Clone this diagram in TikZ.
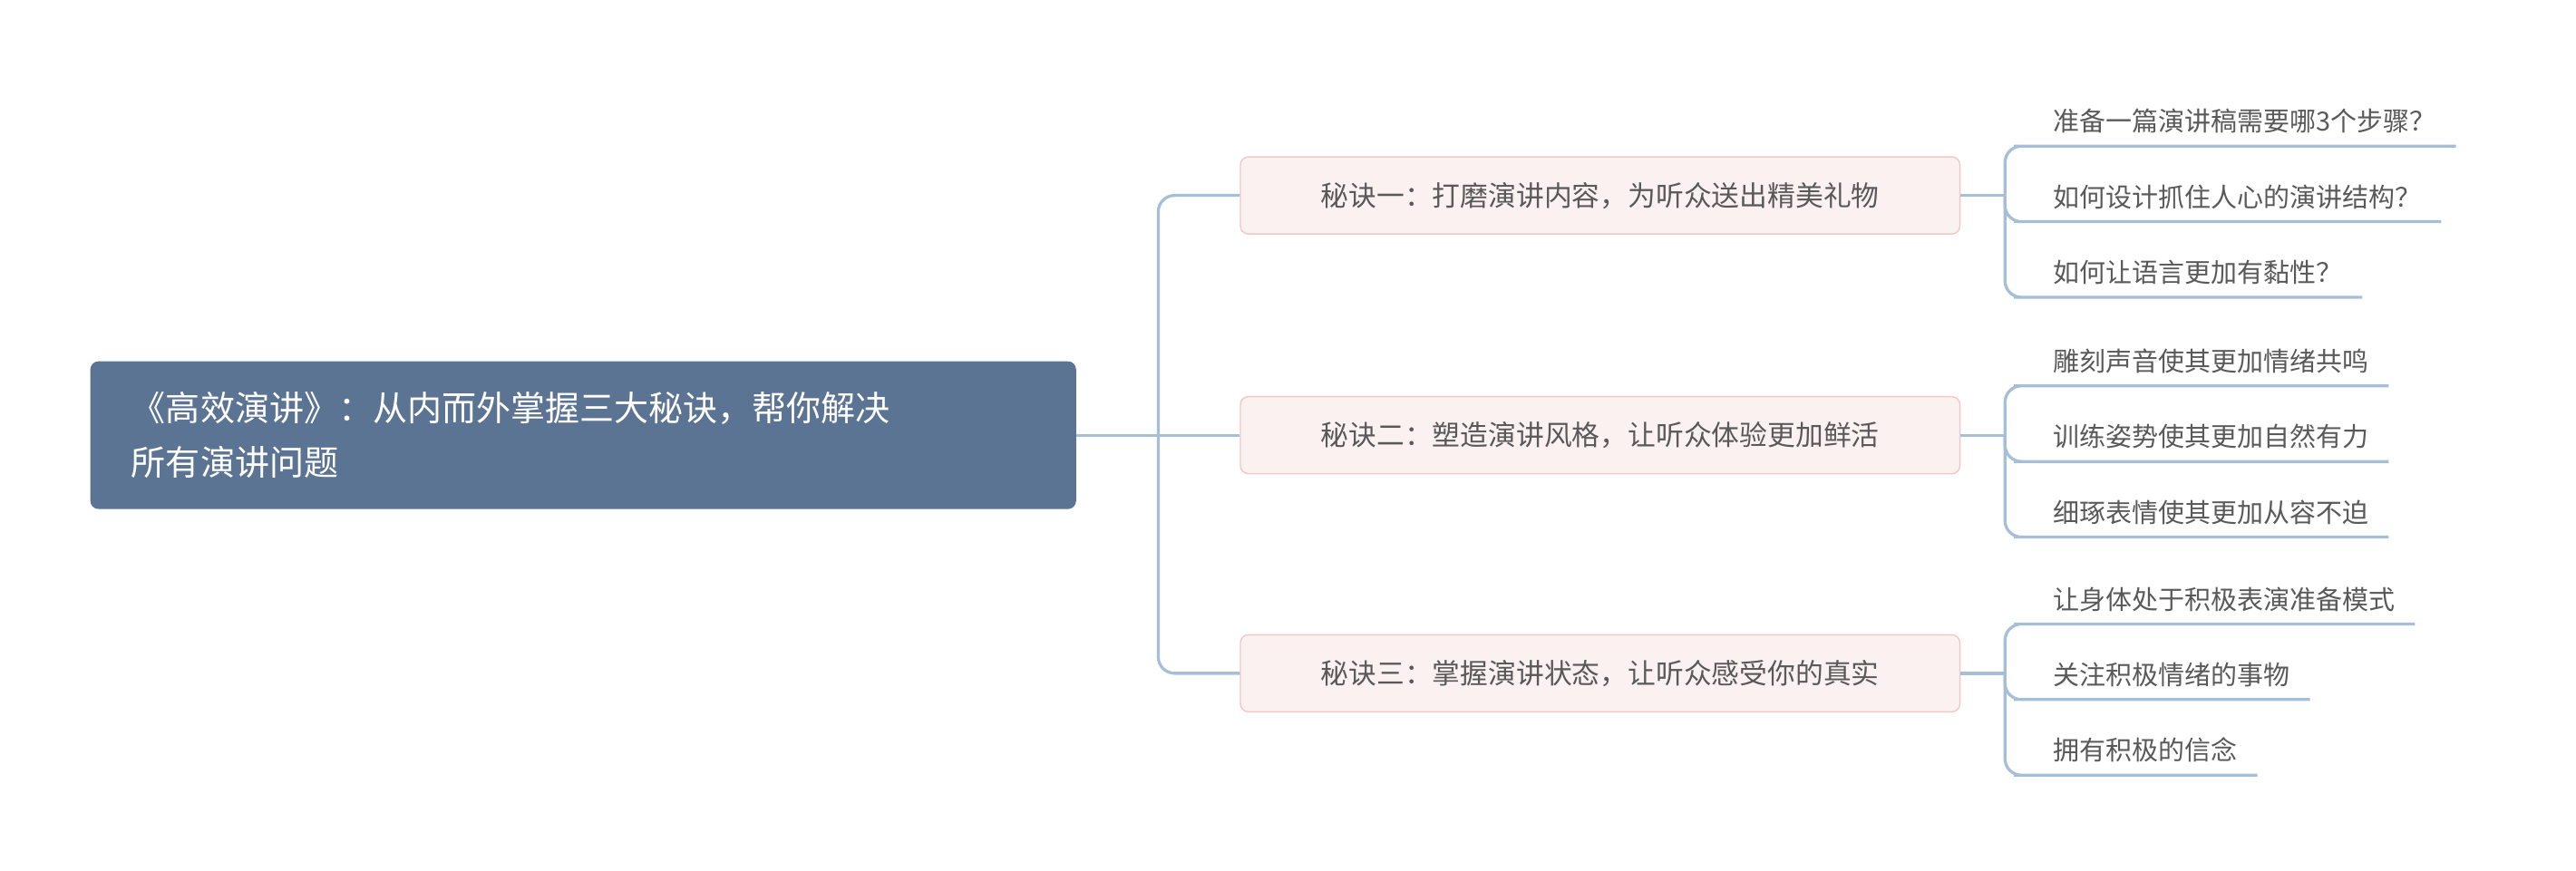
\documentclass[tikz,border=0pt]{standalone}
\usepackage{fontspec}
\setmainfont{Noto Sans CJK SC}
\usetikzlibrary{positioning}
\definecolor{rootfill}{HTML}{5B7493}
\definecolor{linkblue}{HTML}{A6BFD8}
\definecolor{tipfill}{HTML}{FCF1F1}
\definecolor{tipline}{HTML}{F1C9C9}
\definecolor{txtgray}{HTML}{595959}
\tikzset{
  rootbox/.style={fill=rootfill, rounded corners=5pt, text=white, align=left,
    font=\fontsize{21}{33}\selectfont, minimum width=600pt, minimum height=90pt,
    text width=550pt, inner xsep=0pt},
  tipbox/.style={fill=tipfill, draw=tipline, rounded corners=5pt, text=txtgray,
    font=\fontsize{17}{20}\selectfont, minimum width=438pt, minimum height=47pt, line width=0.8pt},
  leaf/.style={anchor=south west, text=txtgray, font=\fontsize{16}{19}\selectfont,
    inner sep=0pt, outer sep=0pt, text depth=0pt, text height=14pt},
  link/.style={draw=linkblue, line width=1.8pt, rounded corners=10pt}
}
\begin{document}
\begin{tikzpicture}[x=1pt,y=-1pt]
  \useasboundingbox (0,0) rectangle (1568,530);
  \node[rootbox] (root) at (355,265) {《高效演讲》：从内而外掌握三大秘诀，帮你解决\\所有演讲问题};

  \node[tipbox] (t1) at (974,119) {秘诀一：打磨演讲内容，为听众送出精美礼物};
  \node[tipbox] (t2) at (974,265) {秘诀二：塑造演讲风格，让听众体验更加鲜活};
  \node[tipbox] (t3) at (974,410) {秘诀三：掌握演讲状态，让听众感受你的真实};

  \coordinate (j0) at (705,265);
  \draw[link] (root.east) -- (j0);
  \draw[link] (j0) |- (t1.west);
  \draw[link] (j0) -- (t2.west);
  \draw[link] (j0) |- (t3.west);

  % leaves
  \foreach \t/\a/\b/\c/\ya in {1/准备一篇演讲稿需要哪3个步骤？/如何设计抓住人心的演讲结构？/如何让语言更加有黏性？/89,
                               2/雕刻声音使其更加情绪共鸣/训练姿势使其更加自然有力/细琢表情使其更加从容不迫/235,
                               3/让身体处于积极表演准备模式/关注积极情绪的事物/拥有积极的信念/380}{
    \coordinate (j\t) at ([xshift=27pt]t\t.east);
    \draw[link] (t\t.east) -- (j\t);
    \node[leaf] (l\t a) at (1250,\ya-9) {\a};
    \node[leaf] (l\t b) at (1250,\ya+37) {\b};
    \node[leaf] (l\t c) at (1250,\ya+83) {\c};
    \foreach \k in {a,b,c}{
      \draw[link] (j\t) |- ([yshift=-9pt]l\t\k.south west) -- ([xshift=-30pt,yshift=-9pt]l\t\k.south west) -- ([xshift=12pt,yshift=-9pt]l\t\k.south east);
    }
  }
\end{tikzpicture}
\end{document}
